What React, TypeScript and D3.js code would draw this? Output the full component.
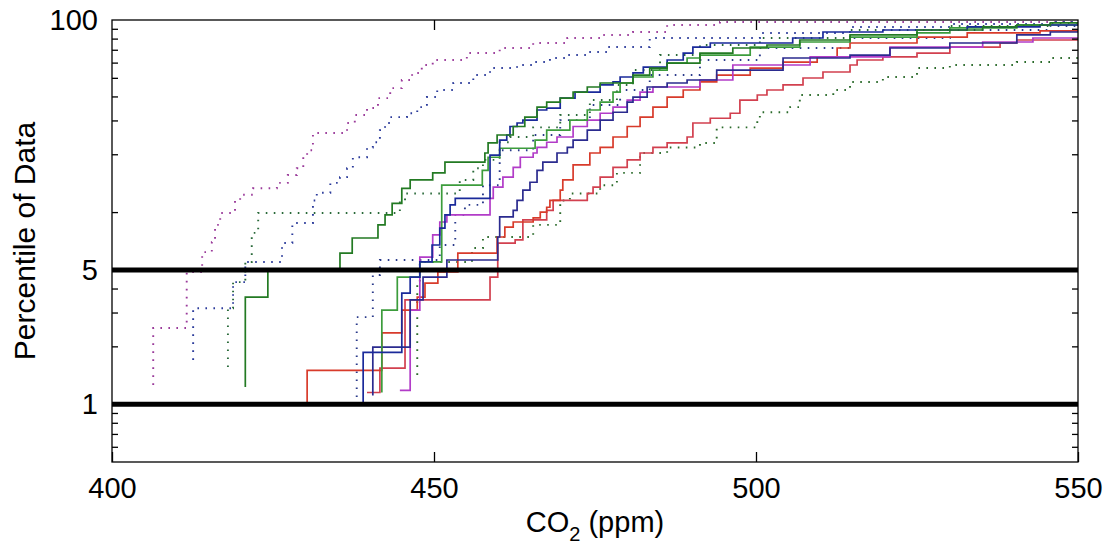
import { useEffect, useRef } from "react";
import * as d3 from "d3";

// CO2 cumulative curves, ppm where each step happens and the percentile reached there
const g1Ppm = [420.7, 420.7, 424.2, 435.4, 437.3, 441.3, 442.4, 443.5, 445.0, 446.3, 449.8, 451.7, 457.9, 458.4, 459.8, 462.3, 464.1, 466.0, 467.5, 469.6, 471.6, 473.8, 475.8, 480.9, 483.5, 486.2, 491.3, 496.4, 501.7, 506.8, 514.6, 525.0, 535.2, 540.5, 545.7];
const g1Pct = [1.23, 3.61, 5.0, 6.12, 7.33, 8.58, 9.67, 11.1, 13.3, 14.7, 16.0, 18.2, 20.3, 22.9, 25.2, 27.9, 31.2, 35.2, 37.4, 39.2, 42.1, 44.8, 47.0, 51.7, 56.2, 59.7, 67.3, 71.5, 74.1, 78.7, 83.6, 88.7, 92.0, 94.2, 96.5];

const g2Ppm = [441.9, 441.9, 444.3, 447.8, 451.2, 457.5, 458.4, 460.2, 465.7, 467.5, 471.1, 473.8, 475.8, 477.8, 478.9, 480.9, 484.0, 486.2, 489.3, 491.3, 499.1, 506.8, 514.6, 525.0, 530.1, 540.5];
const g2Pct = [1.15, 3.09, 4.59, 5.50, 13.8, 16.5, 19.3, 21.5, 23.7, 26.7, 30.1, 34.0, 37.4, 42.1, 47.0, 50.5, 54.9, 59.7, 63.4, 65.7, 72.3, 76.8, 81.5, 85.6, 90.9, 94.2];

const b1Ppm = [439.0, 439.0, 445.0, 446.3, 447.8, 449.7, 450.9, 451.7, 452.5, 453.3, 458.7, 460.2, 461.3, 461.8, 462.9, 463.8, 466.0, 467.5, 469.6, 471.9, 475.8, 477.8, 478.9, 480.9, 482.5, 486.2, 488.7, 490.2, 492.9, 505.7, 510.4, 519.7, 532.8, 544.1];
const b1Pct = [1.01, 1.86, 3.79, 4.59, 5.50, 6.74, 8.26, 9.67, 10.9, 11.8, 19.8, 23.7, 25.2, 27.9, 29.1, 30.1, 34.0, 34.8, 39.2, 42.1, 45.9, 47.6, 50.5, 53.0, 56.9, 61.9, 67.3, 72.3, 75.9, 80.6, 86.6, 88.7, 92.0, 94.2];

const b2Ppm = [440.5, 440.5, 446.3, 448.3, 452.0, 459.9, 460.2, 462.3, 462.9, 463.8, 464.9, 466.0, 466.9, 469.1, 470.7, 471.6, 473.8, 475.8, 477.8, 480.0, 480.9, 483.1, 486.2, 489.3, 493.9, 504.2, 514.6, 520.8, 530.1, 540.5, 545.7];
const b2Pct = [1.11, 1.98, 3.49, 4.59, 5.63, 7.42, 9.44, 10.2, 11.5, 13.0, 14.3, 16.5, 18.2, 20.3, 21.7, 23.7, 26.7, 30.1, 33.1, 37.4, 39.7, 44.8, 47.0, 48.7, 54.9, 63.4, 65.7, 71.5, 75.9, 83.6, 86.6];

const mPpm = [444.7, 446.3, 447.8, 449.8, 450.9, 452.0, 458.7, 459.2, 460.7, 462.3, 463.4, 465.4, 466.0, 467.5, 469.1, 471.6, 473.8, 475.8, 477.8, 480.0, 482.0, 484.0, 491.3, 496.4, 508.4, 520.8, 535.2, 543.0];
const mPct = [1.18, 3.09, 5.83, 7.61, 8.88, 9.67, 11.8, 13.5, 15.2, 17.1, 19.3, 20.3, 21.7, 23.1, 24.6, 27.9, 30.1, 32.7, 35.2, 38.3, 42.1, 44.8, 48.7, 58.3, 64.2, 72.3, 76.8, 80.6];

const r1Ppm = [430.3, 430.3, 441.9, 445.0, 447.4, 448.6, 450.6, 453.7, 459.8, 461.0, 462.3, 465.4, 466.5, 467.5, 468.0, 469.6, 470.0, 471.6, 474.2, 475.8, 477.8, 480.0, 482.0, 484.0, 486.2, 488.7, 491.3, 493.9, 499.1, 504.2, 509.5, 512.6, 514.6, 525.0, 532.8, 544.1];
const r1Pct = [1.01, 1.50, 2.35, 3.09, 3.61, 4.27, 4.88, 6.12, 7.42, 8.36, 8.88, 9.33, 10.0, 10.6, 11.5, 13.0, 14.7, 17.6, 20.3, 21.7, 24.6, 27.9, 31.2, 35.2, 39.7, 43.2, 47.6, 51.7, 56.2, 60.4, 64.2, 71.5, 75.9, 81.5, 85.6, 87.7];

const r2Ppm = [439.6, 441.6, 445.5, 458.7, 459.9, 462.6, 463.8, 467.5, 468.5, 473.8, 474.7, 475.8, 477.8, 480.0, 482.0, 484.0, 486.2, 489.3, 490.2, 492.9, 496.0, 497.5, 500.2, 501.7, 504.2, 507.3, 510.4, 514.6, 515.7, 519.7, 525.0, 530.1, 537.9, 540.5];
const r2Pct = [1.15, 1.54, 3.49, 4.59, 6.90, 7.16, 9.11, 10.2, 11.5, 12.5, 13.5, 15.2, 17.1, 18.7, 20.3, 21.7, 22.9, 24.6, 29.1, 30.8, 32.7, 38.3, 40.7, 43.2, 45.9, 49.9, 53.6, 58.3, 61.9, 64.2, 67.3, 72.3, 75.9, 78.7];

// dotted curves
const d1Ppm = [406.4, 406.4, 411.6, 414.0, 415.5, 416.0, 416.8, 419.1, 419.9, 421.9, 425.6, 427.3, 428.7, 429.7, 430.3, 431.2, 436.5, 437.7, 439.6, 441.3, 443.2, 445.0, 446.6, 448.1, 449.8, 455.1, 460.2, 465.4, 470.7, 475.8, 480.9, 486.2, 494.4];
const d1Pct = [1.26, 2.49, 4.88, 6.19, 6.98, 8.58, 9.90, 11.5, 12.3, 13.3, 14.2, 15.6, 16.9, 19.3, 21.0, 25.8, 29.1, 32.0, 34.8, 39.2, 44.2, 48.7, 53.0, 58.3, 61.9, 67.3, 71.5, 75.9, 80.6, 83.6, 86.6, 94.2, 97.6];

const d2Ppm = [412.6, 412.6, 418.8, 420.7, 426.4, 428.0, 431.2, 431.8, 433.9, 435.4, 436.5, 437.4, 439.6, 440.5, 441.6, 442.4, 443.2, 445.8, 447.4, 448.9, 450.5, 453.0, 456.1, 458.7, 462.9, 465.4, 468.0, 470.7, 473.8, 476.9, 483.5, 500.6, 514.6, 530.1, 545.7];
const d2Pct = [1.70, 3.16, 4.32, 5.50, 6.90, 8.78, 11.5, 12.6, 14.2, 15.2, 16.9, 19.3, 21.7, 23.1, 26.7, 29.1, 31.2, 32.7, 35.2, 39.7, 43.2, 47.0, 51.7, 56.2, 58.3, 60.4, 63.4, 65.7, 68.1, 72.3, 80.6, 85.6, 92.0, 95.3, 97.6];

const d3Ppm = [418.0, 418.0, 418.8, 420.7, 421.7, 422.7, 444.7, 445.5, 454.0, 456.1, 457.6, 460.2, 461.8, 465.4, 469.6, 474.2, 478.4, 480.9, 485.1, 491.3, 500.6, 514.6, 530.1, 545.7];
const d3Pct = [1.56, 3.16, 4.32, 5.50, 7.79, 9.90, 11.5, 12.5, 14.7, 16.9, 18.7, 23.1, 24.6, 27.6, 32.0, 38.3, 45.9, 54.9, 65.7, 74.1, 80.6, 88.7, 93.1, 96.5];

const d4Ppm = [438.0, 438.0, 440.5, 441.6, 450.9, 453.3, 454.8, 457.6, 460.2, 465.4, 469.6, 474.2, 478.9, 483.5, 491.3, 500.6, 514.6, 530.1, 545.7];
const d4Pct = [1.09, 2.84, 4.70, 5.63, 6.74, 9.67, 10.9, 13.8, 21.0, 25.2, 30.1, 36.1, 43.2, 51.7, 61.9, 71.5, 80.6, 88.7, 93.1];

const d5Ppm = [447.4, 447.4, 447.8, 455.9, 457.6, 465.4, 469.6, 471.1, 475.8, 478.4, 482.0, 486.2, 491.3, 493.9, 500.2, 500.6, 505.3, 506.8, 512.0, 514.6, 519.7, 525.0, 530.1, 540.5, 545.7];
const d5Pct = [1.42, 4.27, 5.50, 6.50, 7.42, 8.58, 11.5, 12.5, 13.8, 16.0, 20.3, 21.7, 22.9, 27.6, 30.1, 33.1, 35.2, 40.7, 43.2, 47.6, 50.5, 56.2, 58.3, 60.4, 63.4];

const xTicks = [400, 450, 500, 550];
const yLabels = [1, 5, 100];
const yMinor = [0.6, 0.7, 0.8, 0.9, 2, 3, 4, 10, 20, 30, 40, 50, 60, 70, 80, 90];
const refLines = [1, 5];

const FONT = "'Liberation Sans', Arial, Helvetica, sans-serif";

export default function App() {
  const ref = useRef(null);

  useEffect(() => {
    const svg = d3.select(ref.current);
    svg.selectAll("*").remove();

    const left = 112, right = 1078, top = 20, bottom = 462;
    const x = d3.scaleLinear().domain([400, 550]).range([left, right]);
    const y = d3.scaleLog().domain([0.5, 100]).range([bottom, top]);

    svg.append("rect").attr("width", 1112).attr("height", 548).attr("fill", "white");

    svg.append("clipPath").attr("id", "plotclip")
      .append("rect").attr("x", left).attr("y", top).attr("width", right - left).attr("height", bottom - top);

    const series = [
      { ppm: d1Ppm, pct: d1Pct, color: "#9a3a9a", dotted: true },
      { ppm: d2Ppm, pct: d2Pct, color: "#2a3a9a", dotted: true },
      { ppm: d3Ppm, pct: d3Pct, color: "#2a6a3a", dotted: true },
      { ppm: d4Ppm, pct: d4Pct, color: "#2a3a8a", dotted: true },
      { ppm: d5Ppm, pct: d5Pct, color: "#2a6a2a", dotted: true },
      { ppm: r2Ppm, pct: r2Pct, color: "#d2404f", dotted: false },
      { ppm: r1Ppm, pct: r1Pct, color: "#d83b2b", dotted: false },
      { ppm: mPpm, pct: mPct, color: "#b23cc8", dotted: false },
      { ppm: b2Ppm, pct: b2Pct, color: "#2b2b8f", dotted: false },
      { ppm: g2Ppm, pct: g2Pct, color: "#3c9c3c", dotted: false },
      { ppm: b1Ppm, pct: b1Pct, color: "#1a2a9a", dotted: false },
      { ppm: g1Ppm, pct: g1Pct, color: "#237a23", dotted: false },
    ];

    const line = d3.line()
      .x(d => x(d[0]))
      .y(d => y(d[1]))
      .curve(d3.curveStepAfter);

    const plot = svg.append("g").attr("clip-path", "url(#plotclip)");

    series.forEach(s => {
      const pts = s.ppm.map((p, i) => [p, s.pct[i]]);
      pts.push([550, s.pct[s.pct.length - 1]]);
      plot.append("path")
        .attr("d", line(pts))
        .attr("fill", "none")
        .attr("stroke", s.color)
        .attr("stroke-width", s.dotted ? 1.9 : 1.7)
        .attr("stroke-dasharray", s.dotted ? "1.6 6.4" : null);
    });

    // thick reference lines at 1 and 5 percent
    plot.selectAll(".ref").data(refLines).enter().append("line")
      .attr("x1", left).attr("x2", right)
      .attr("y1", d => y(d)).attr("y2", d => y(d))
      .attr("stroke", "black").attr("stroke-width", 5);

    const styleAxis = g => {
      g.select(".domain").remove();
      g.attr("font-family", FONT).attr("font-size", 29).attr("fill", "black");
      g.selectAll("line").attr("stroke", "black").attr("stroke-width", 1.3);
    };

    svg.append("g").attr("transform", `translate(0,${bottom})`)
      .call(d3.axisBottom(x).tickValues(xTicks).tickSize(-10).tickPadding(15).tickFormat(d3.format("d")))
      .call(styleAxis);

    svg.append("g").attr("transform", `translate(0,${top})`)
      .call(d3.axisTop(x).tickValues([450, 500]).tickSize(-10).tickFormat(() => ""))
      .call(styleAxis);

    svg.append("g").attr("transform", `translate(${left},0)`)
      .call(d3.axisLeft(y).tickValues(yLabels).tickSize(0).tickPadding(14).tickFormat(d3.format("d")))
      .call(styleAxis);

    svg.append("g").attr("transform", `translate(${left},0)`)
      .call(d3.axisLeft(y).tickValues(yMinor).tickSize(-6).tickFormat(() => ""))
      .call(styleAxis);

    svg.append("g").attr("transform", `translate(${right},0)`)
      .call(d3.axisRight(y).tickValues(yMinor).tickSize(-6).tickFormat(() => ""))
      .call(styleAxis);

    svg.append("rect")
      .attr("x", left).attr("y", top).attr("width", right - left).attr("height", bottom - top)
      .attr("fill", "none").attr("stroke", "black").attr("stroke-width", 1.3);

    // axis titles
    const xl = svg.append("text")
      .attr("x", (left + right) / 2).attr("y", 532)
      .attr("text-anchor", "middle")
      .attr("font-family", FONT).attr("font-size", 29);
    xl.append("tspan").text("CO");
    xl.append("tspan").attr("font-size", 20).attr("dy", 9).text("2");
    xl.append("tspan").attr("dy", -9).text(" (ppm)");

    svg.append("g")
      .attr("transform", `translate(35,${(top + bottom) / 2}) rotate(-90)`)
      .append("text")
      .attr("text-anchor", "middle")
      .attr("font-family", FONT).attr("font-size", 30)
      .text("Percentile of Data");
  }, []);

  return (
    <svg ref={ref} width={1112} height={548}
      style={{ position: "absolute", left: 0, top: 0, display: "block" }} />
  );
}
